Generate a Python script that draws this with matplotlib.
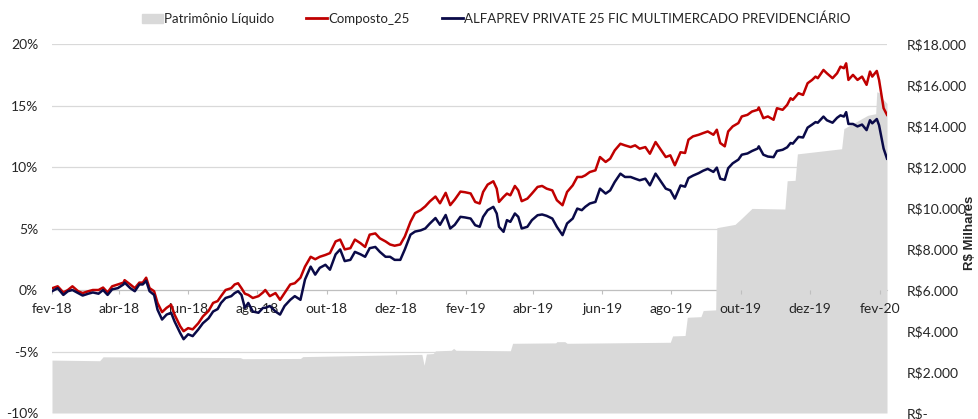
import numpy as np
import pandas as pd
import matplotlib
matplotlib.use('Agg')
import matplotlib.pyplot as plt
import matplotlib.ticker as mticker
from matplotlib.patches import Patch
from matplotlib.lines import Line2D

# dias corridos desde 01/02/2018
dias = [0, 5, 10, 14, 18, 23, 27, 32, 36, 41,
        45, 49, 53, 58, 63, 64, 69, 73, 77, 80,
        83, 86, 90, 93, 97, 101, 105, 108, 113, 116,
        120, 124, 129, 133, 138, 142, 146, 149, 153, 158,
        161, 164, 167, 170, 173, 177, 182, 186,
        188, 192, 197, 201, 205, 210, 214, 219, 223, 228,
        232, 236, 241, 245, 250, 254, 258, 263, 267, 272,
        276, 280, 285, 289, 294, 298, 302, 307, 311, 316,
        320, 325, 329, 333, 338, 342, 347, 351, 355, 360,
        364, 369,
        373, 377, 380, 384, 389, 392, 394, 398, 401, 404,
        408, 411, 414, 419, 423, 428, 432, 436, 441, 445,
        450, 454, 459, 463, 467, 470, 474, 479, 483, 488,
        492, 496, 501, 505, 510, 514, 518, 523, 527, 532,
        536, 541, 545, 549, 554,
        558, 561, 565, 570, 574, 578, 583, 586, 589, 593,
        596, 600, 605, 608, 613, 617, 622, 623, 627, 631,
        636, 639, 644, 648, 651, 653, 658, 662, 666, 670,
        673, 675, 680, 683, 688, 692, 695, 698, 700, 702,
        706, 710, 714, 718, 721, 723, 727, 729, 733, 736]

# rentabilidade acumulada (%)
composto_25 = [0.14, 0.3, -0.2, 0.0, 0.3, -0.1, -0.25, -0.1, 0.0, 0.0,
               0.2, -0.2, 0.3, 0.45, 0.6, 0.8, 0.45, 0.15, 0.6, 0.6,
               1.0, 0.15, -0.1, -1.05, -1.8, -1.45, -1.2, -2.0, -2.95, -3.35,
               -3.1, -3.2, -2.7, -2.15, -1.7, -1.05, -0.9, -0.5, 0.0, 0.15,
               0.45, 0.55, 0.15, -0.3, -0.4, -0.65, -0.5, -0.2,
               0.0, -0.5, -0.25, -0.8, -0.25, 0.45, 0.55, 1.0, 1.9, 2.7,
               2.5, 2.7, 2.85, 3.0, 3.95, 4.1, 3.3, 3.4, 4.1, 3.8,
               3.5, 4.5, 4.6, 4.2, 3.95, 3.7, 3.6, 3.7, 4.35, 5.55,
               6.25, 6.5, 6.8, 7.2, 7.6, 7.05, 7.9, 6.9, 7.35, 8.0,
               7.95, 7.85,
               7.16, 7.03, 7.97, 8.57, 8.84, 8.24, 7.16, 7.57, 7.84, 7.7,
               8.46, 8.1, 7.22, 7.43, 7.84, 8.38, 8.46, 8.24, 8.1, 7.3,
               6.89, 7.97, 8.51, 9.19, 9.19, 9.32, 9.59, 9.73, 10.81, 10.41,
               10.68, 11.35, 11.89, 11.76, 11.62, 11.76, 11.49, 11.62, 11.08, 12.03,
               11.49, 10.81, 10.95, 10.14, 11.2,
               11.14, 12.22, 12.49, 12.62, 12.76, 12.89, 12.62, 13.03, 11.95, 11.68,
               12.89, 13.3, 13.57, 14.11, 14.24, 14.51, 14.65, 14.84, 13.97, 14.11,
               13.84, 14.78, 14.65, 15.05, 15.59, 15.46, 16.0, 15.86, 16.81, 17.08,
               17.35, 17.22, 17.89, 17.62, 17.22, 17.62, 18.16, 18.03, 18.43, 17.08,
               17.49, 17.08, 17.35, 16.68, 17.76, 17.35, 17.81, 17.08, 14.78, 14.24]

alfaprev = [-0.1, 0.15, -0.4, -0.1, 0.0, -0.25, -0.45, -0.3, -0.2, -0.3,
            0.0, -0.4, 0.05, 0.15, 0.45, 0.6, 0.15, -0.1, 0.45, 0.45,
            0.75, -0.1, -0.4, -1.6, -2.4, -2.0, -1.85, -2.55, -3.5, -4.0,
            -3.6, -3.75, -3.2, -2.7, -2.3, -1.75, -1.55, -1.05, -0.65, -0.5,
            -0.25, -0.1, -0.4, -1.45, -1.05, -1.75, -1.85, -1.45,
            -1.45, -1.3, -1.75, -2.0, -1.3, -0.8, -0.5, -0.8, 0.85, 1.9,
            1.25, 1.8, 2.05, 1.65, 2.9, 3.3, 2.35, 2.45, 3.1, 2.9,
            2.7, 3.4, 3.5, 3.1, 2.7, 2.7, 2.45, 2.45, 3.3, 4.5,
            4.75, 4.85, 5.0, 5.4, 5.85, 5.3, 6.1, 5.0, 5.3, 5.95,
            5.9, 5.81,
            5.27, 5.14, 5.95, 6.49, 6.76, 6.22, 5.14, 4.73, 5.68, 5.54,
            6.22, 5.95, 5.0, 5.14, 5.68, 6.08, 6.14, 6.03, 5.81, 5.14,
            4.46, 5.41, 5.81, 6.62, 6.49, 6.76, 7.03, 7.16, 8.24, 7.84,
            8.1, 8.78, 9.46, 9.19, 9.19, 9.05, 8.92, 9.05, 8.51, 9.46,
            8.92, 8.24, 8.1, 7.43, 8.5,
            8.4, 9.1, 9.3, 9.5, 9.7, 9.85, 9.6, 9.95, 9.05, 8.95,
            9.9, 10.3, 10.6, 11.0, 11.1, 11.3, 11.5, 11.68, 11.0, 10.85,
            10.8, 11.3, 11.4, 11.6, 11.95, 11.9, 12.45, 12.4, 13.2, 13.45,
            13.65, 13.6, 14.1, 13.8, 13.6, 14.0, 14.2, 14.1, 14.46, 13.5,
            13.5, 13.3, 13.45, 13.0, 13.8, 13.55, 13.9, 13.4, 11.5, 10.68]

# patrimônio líquido (R$ mil)
dias_pl = [0, 42, 45, 166, 168, 219, 221, 325, 326, 328,
           330, 336, 338, 352, 354, 356, 404, 406, 444, 445,
           452, 454, 545, 547, 558, 560, 572, 574, 585, 586,
           602, 607, 617, 646, 648, 655, 657, 696, 698, 719,
           726, 727, 730, 732, 736]
patrimonio = [2580, 2550, 2740, 2700, 2650, 2660, 2750, 2860, 2860, 2330,
              2880, 2900, 3030, 3060, 3150, 3060, 3035, 3400, 3420, 3480,
              3480, 3400, 3450, 3760, 3780, 4670, 4700, 5000, 5030, 9040,
              9200, 9450, 9980, 9950, 11330, 11350, 12640, 12890, 13870, 14520,
              14600, 15670, 15600, 15340, 15100]

meses = ['jan', 'fev', 'mar', 'abr', 'mai', 'jun', 'jul', 'ago', 'set', 'out', 'nov', 'dez']

inicio = pd.Timestamp('2018-02-01')
datas = inicio + pd.to_timedelta(dias, unit='D')
datas_pl = inicio + pd.to_timedelta(dias_pl, unit='D')

plt.rcParams['font.family'] = ['Lato', 'DejaVu Sans']
plt.rcParams['font.size'] = 10
cor_texto = '#262626'
cinza = '#D9D9D9'
vermelho = '#C00000'
azul = '#0A0A48'


def rotulo_mes(v, p):
    d = matplotlib.dates.num2date(v)
    return f"{meses[d.month - 1]}-{d.strftime('%y')}"


fig = plt.figure(figsize=(9.79, 4.19), dpi=100)
ax = fig.add_axes([52 / 979, 1 - 413 / 419, (887 - 52) / 979, (413 - 44) / 419])
ax2 = ax.twinx()
ax3 = ax.twinx()
ax.set_zorder(1)
ax2.set_zorder(2)
ax3.set_zorder(3)
ax2.patch.set_visible(False)
ax3.patch.set_visible(False)

# eixo principal: grade e rótulos em %
ax.set_ylim(-10, 20)
ax.set_yticks(np.arange(-10, 21, 5))
ax.yaxis.set_major_formatter(mticker.FuncFormatter(lambda v, p: f'{v:.0f}%'))
ax.grid(axis='y', color=cinza, linewidth=0.9)
ax.set_axisbelow(True)
for s in ['top', 'right', 'left']:
    ax.spines[s].set_visible(False)
ax.spines['bottom'].set_position(('data', 0))
ax.spines['bottom'].set_color('#BFBFBF')
ax.tick_params(axis='y', length=0, pad=10, colors=cor_texto, labelsize=10)
ax.tick_params(axis='x', length=0, labelbottom=False)

# eixo secundário: patrimônio
ax2.fill_between(datas_pl, patrimonio, 0, color=cinza, linewidth=0, zorder=1)
ax2.set_ylim(0, 18000)
ax2.set_yticks(np.arange(0, 18001, 2000))
ax2.yaxis.set_major_formatter(mticker.FuncFormatter(
    lambda v, p: 'R$-' if v == 0 else 'R$' + f'{v:,.0f}'.replace(',', '.')))
ax2.tick_params(axis='y', length=0, pad=14, colors=cor_texto, labelsize=10)
for s in ['top', 'right', 'left']:
    ax2.spines[s].set_visible(False)
ax2.xaxis.set_visible(True)
ax2.spines['bottom'].set_position(('data', 6000))
ax2.spines['bottom'].set_visible(False)
ax2.set_xticks(pd.date_range('2018-02-01', '2020-02-01', freq='2MS'))
ax2.xaxis.set_major_formatter(mticker.FuncFormatter(rotulo_mes))
ax2.tick_params(axis='x', bottom=True, labelbottom=True, direction='out', length=3,
                width=0.8, color='#BFBFBF', pad=6, labelcolor=cor_texto, labelsize=10)
ax2.set_ylabel('R$ Milhares', fontweight='bold', color=cor_texto, fontsize=9.5,
               family=['Liberation Sans', 'DejaVu Sans'])
ax2.yaxis.set_label_coords(1.092, 0.488)

# séries de rentabilidade
ax3.plot(datas, composto_25, color=vermelho, linewidth=1.8, zorder=3)
ax3.plot(datas, alfaprev, color=azul, linewidth=1.8, zorder=3)
ax3.set_ylim(-10, 20)
ax3.axis('off')

ax.set_xlim(inicio, inicio + pd.Timedelta(days=736))

handles = [Patch(color=cinza), Line2D([], [], color=vermelho, lw=2),
           Line2D([], [], color=azul, lw=2)]
labels = ['Patrimônio Líquido', 'Composto_25',
          'ALFAPREV PRIVATE 25 FIC MULTIMERCADO PREVIDENCIÁRIO']
fig.legend(handles, labels, loc='center', bbox_to_anchor=(0.507, 0.955), ncol=3,
           frameon=False, handlelength=1.6, handletextpad=0.1, columnspacing=2.4,
           labelcolor=cor_texto, fontsize=9.5)

fig.savefig('out.png', dpi=100)
